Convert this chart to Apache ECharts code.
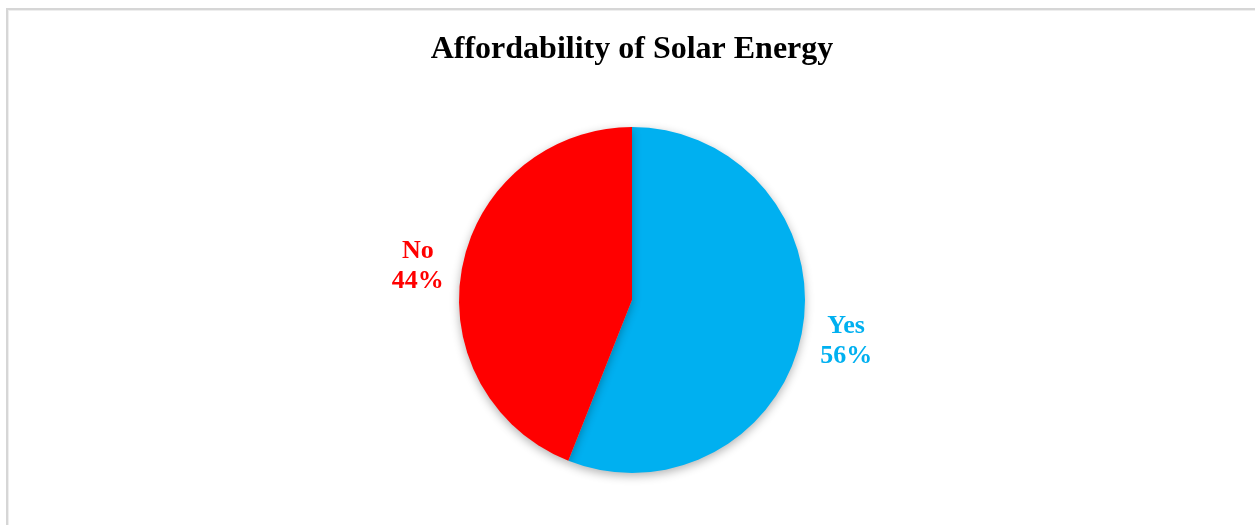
<!DOCTYPE html>
<html>
<head>
<meta charset="utf-8">
<script src="https://cdn.jsdelivr.net/npm/echarts@6/dist/echarts.min.js"></script>
<style>
  html, body { margin: 0; padding: 0; background: #ffffff; overflow: hidden; }
  #frame {
    position: absolute; left: 6px; top: 8px; width: 1270px; height: 540px;
    border-left: 2px solid #d6d6d6; border-top: 2px solid #d6d6d6;
    box-shadow: inset 1px 1px 0 #eeeeee;
  }
  #chart { position: absolute; left: 0; top: 0; width: 1255px; height: 525px; }
</style>
</head>
<body>
<div id="frame"></div>
<div id="chart"></div>
<script>
// Survey answers and their shares (percent)
const categories = ['Yes', 'No'];
const shares = [56, 44];
const sliceColors = ['#00B0F0', '#FF0000'];

const CX = 632, CY = 300, R = 173;
// labels sit on an ellipse slightly outside the rim, nudged a bit downward
const LABEL_DX = R + 45, LABEL_DY = R + 27, LABEL_SHIFT_Y = 4;

const chart = echarts.init(document.getElementById('chart'), null, { renderer: 'canvas' });

const total = shares.reduce((a, b) => a + b, 0);
// label centre follows the slice's mid-angle
function labelAnchor(i) {
  let before = 0;
  for (let k = 0; k < i; k++) before += shares[k];
  const theta = 2 * Math.PI * (before + shares[i] / 2) / total;
  return {
    x: CX + LABEL_DX * Math.sin(theta),
    y: CY + LABEL_SHIFT_Y - LABEL_DY * Math.cos(theta)
  };
}

chart.setOption({
  animation: false,
  backgroundColor: 'transparent',
  title: {
    text: 'Affordability of Solar Energy',
    left: CX - 5, top: 29, textAlign: 'center',
    textStyle: { fontFamily: 'Liberation Serif', fontWeight: 'bold', fontSize: 32, color: '#000000' }
  },
  series: [{
    type: 'pie',
    center: [CX, CY],
    radius: R,
    startAngle: 90,
    clockwise: true,
    avoidLabelOverlap: false,
    itemStyle: {
      borderWidth: 0,
      shadowBlur: 10,
      shadowOffsetY: 3,
      shadowColor: 'rgba(0,0,0,0.3)'
    },
    label: {
      show: true,
      position: 'outside',
      formatter: '{b}\n{d}%',
      fontFamily: 'Liberation Serif',
      fontWeight: 'bold',
      fontSize: 26,
      lineHeight: 30,
      align: 'center'
    },
    labelLine: { show: false },
    labelLayout: function (p) {
      const a = labelAnchor(p.dataIndex);
      return { x: a.x, y: a.y, align: 'center', verticalAlign: 'middle' };
    },
    data: categories.map((name, i) => ({
      name: name,
      value: shares[i],
      itemStyle: { color: sliceColors[i] },
      label: { color: sliceColors[i] }
    }))
  }]
});
</script>
</body>
</html>
